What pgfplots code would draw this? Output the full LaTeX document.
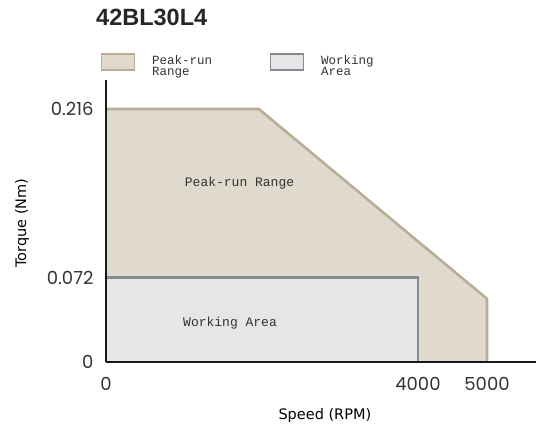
\documentclass[border=0pt]{standalone}
\usepackage{pgfplots}
\pgfplotsset{compat=1.18}
\usepackage{fontspec}
\setmainfont{Poppins}
\newfontfamily\monofont{Liberation Mono}
\newfontfamily\labfont{DejaVu Sans}
\newfontfamily\titlefont{Liberation Sans}
\definecolor{peakfill}{HTML}{E0D9CE}
\definecolor{peakline}{HTML}{B9AD98}
\definecolor{workfill}{HTML}{E5E6E8}
\definecolor{workline}{HTML}{878A8E}
\definecolor{txt}{HTML}{333333}
\begin{document}
\begin{tikzpicture}[x=1pt,y=1pt]
\path[use as bounding box] (-106,-67) rectangle (430,362);
\begin{axis}[
  at={(0,0)}, anchor=south west,
  scale only axis, width=430pt, height=282pt,
  xmin=0, xmax=5513, ymin=0, ymax=0.2408,
  axis lines=left,
  axis line style={line width=2.6pt, black!90, -},
  axis on top,
  xtick={0,4000,4885}, xticklabels={0,4000,5000},
  ytick={0,0.072,0.216}, yticklabels={0,0.072,0.216},
  major tick length=0pt,
  tick label style={font=\fontsize{18}{18}\selectfont, text=txt},
  xticklabel style={yshift=-12pt},
  yticklabel style={xshift=-9pt},
  xlabel={Speed (RPM)}, ylabel={Torque (Nm)},
  xlabel style={font=\labfont\fontsize{14.5}{15}\selectfont, at={(axis description cs:0.509,0)}, anchor=center, yshift=-53pt},
  ylabel style={font=\labfont\fontsize{14.5}{15}\selectfont, at={(axis description cs:-0.195,0.493)}, anchor=center},
  clip=false,
]
\addplot[fill=peakfill, draw=none] coordinates {(0,0) (0,0.216) (1960,0.216) (4885,0.054) (4885,0)} -- cycle;
\addplot[draw=peakline, line width=2.6pt, line join=miter] coordinates {(0,0.216) (1960,0.216) (4885,0.054) (4885,0)};
\addplot[fill=workfill, draw=none] coordinates {(0,0) (0,0.072) (4000,0.072) (4000,0)} -- cycle;
\addplot[draw=workline, line width=2.6pt] coordinates {(0,0.072) (4000,0.072) (4000,0)};
\node[font=\monofont\fontsize{13}{13}\selectfont, text=txt] at (axis cs:1712,0.153) {Peak-run Range};
\node[font=\monofont\fontsize{13}{13}\selectfont, text=txt] at (axis cs:1590,0.033) {Working Area};
\end{axis}
% legend
\draw[draw=peakline, fill=peakfill, line width=1.2pt] (-4.5,292) rectangle (28.5,308);
\node[anchor=north west, align=left, inner sep=0pt, font=\monofont\fontsize{12.5}{11.5}\selectfont, text=txt] at (46,307) {Peak-run\\Range};
\draw[draw=workline, fill=workfill, line width=1.2pt] (164.5,292) rectangle (197.5,308);
\node[anchor=north west, align=left, inner sep=0pt, font=\monofont\fontsize{12.5}{11.5}\selectfont, text=txt] at (215,307) {Working\\Area};
% title
\node[anchor=base west, inner sep=0pt, font=\titlefont\bfseries\fontsize{23.5}{24}\selectfont, text=black!85] at (-10,336) {42BL30L4};
\end{tikzpicture}
\end{document}
